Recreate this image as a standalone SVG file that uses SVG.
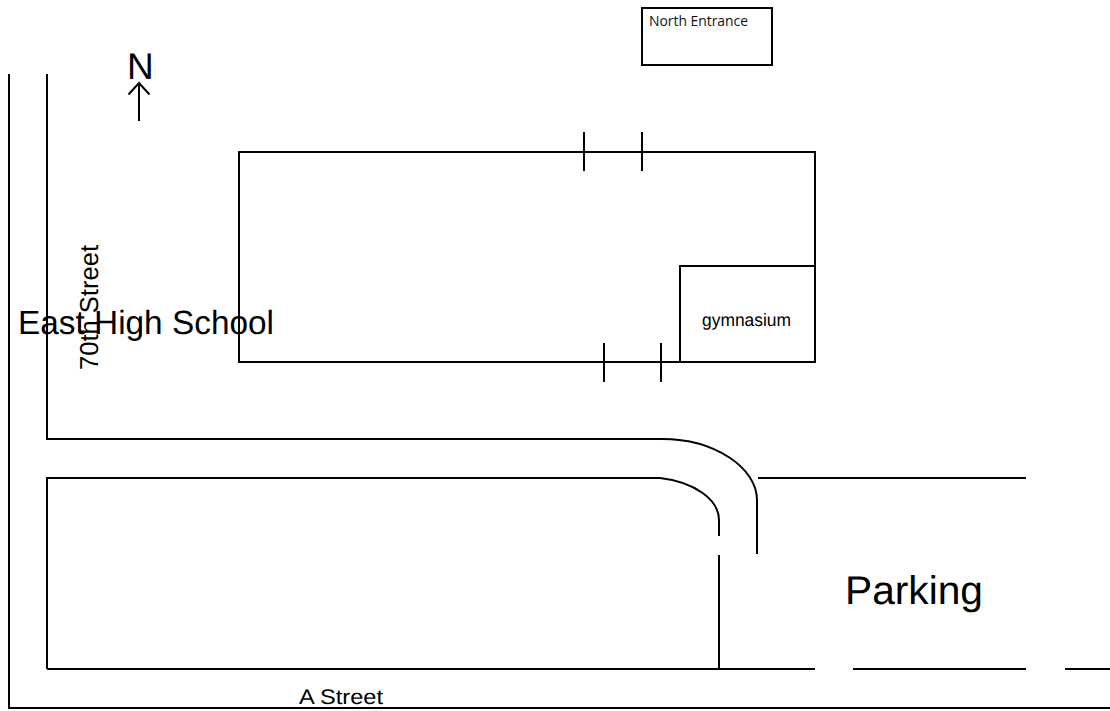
<svg xmlns="http://www.w3.org/2000/svg" width="1110" height="711" viewBox="0 0 1110 711">
<style>
.l{fill:none;stroke:#000;stroke-width:2}
.t{font-family:"Liberation Sans",Arial,sans-serif;fill:#000;text-rendering:geometricPrecision}
</style>
<rect width="1110" height="711" fill="#fff"/>
<g id="connectors">
<path class="l" d="M9 74V708H1110"/>
<path class="l" d="M47 74V439H662C715 439 757 468 757 500V554"/>
<path class="l" d="M47 669V478H660C695 482 719 500 719 520V536"/>
<path class="l" d="M719 555V669H47"/>
<path class="l" d="M758 478H1026"/>
<path class="l" d="M719 669H815M853 669H1026M1065 669H1110"/>
<path fill="none" stroke="#000" stroke-width="2" d="M139 121V83M128.500 94.500 139 83 149.500 94.500"/>
</g>
<g id="school">
<path class="l" d="M239 152H815V362H239Z"/>
<path class="l" d="M584 132V171M642 132V171M604 343V382M661 343V382"/>
<text class="t" x="18" y="334" font-size="33.500" textLength="256" lengthAdjust="spacingAndGlyphs">East High School</text>
</g>
<g id="gymnasium">
<path class="l" d="M815 266H680V362"/>
<text class="t" x="702" y="325.500" font-size="18" textLength="89" lengthAdjust="spacingAndGlyphs">gymnasium</text>
</g>
<g id="north-entrance">
<rect x="642" y="8" width="130" height="57" fill="#fff" stroke="#000" stroke-width="2"/>
<text x="649" y="26" font-size="14" fill="#111" font-family="'Open Sans','Noto Sans',sans-serif" textLength="99" lengthAdjust="spacingAndGlyphs">North Entrance</text>
</g>
<g id="north"><text class="t" x="127" y="79" font-size="37">N</text></g>
<g id="street-70"><text class="t" transform="translate(98 370) rotate(-90)" font-size="26" textLength="125" lengthAdjust="spacingAndGlyphs">70th Street</text></g>
<g id="a-street"><text class="t" x="299" y="704" font-size="21" textLength="84" lengthAdjust="spacingAndGlyphs">A Street</text></g>
<g id="parking"><text class="t" x="845" y="604" font-size="40" textLength="138" lengthAdjust="spacingAndGlyphs">Parking</text></g>
</svg>
